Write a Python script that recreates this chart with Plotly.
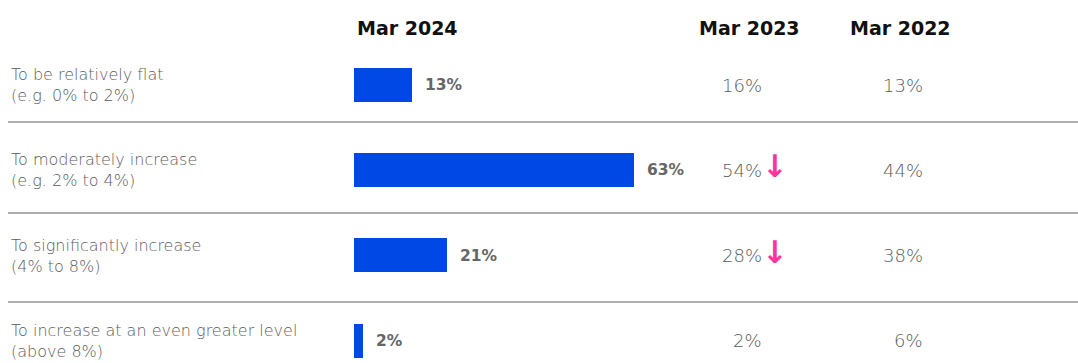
import plotly.graph_objects as go

# Expected change in salaries: share of respondents by period
categories = [
    "To be relatively flat<br>(e.g. 0% to 2%)",
    "To moderately increase<br>(e.g. 2% to 4%)",
    "To significantly increase<br>(4% to 8%)",
    "To increase at an even greater level<br>(above 8%)",
]
mar_2024 = [13, 63, 21, 2]
mar_2023 = [16, 54, 28, 2]
mar_2022 = [13, 44, 38, 6]
# significant movement flag shown beside the Mar 2023 figure
change_2023 = ["", "down", "down", ""]
column_titles = ["Mar 2024", "Mar 2023", "Mar 2022"]

W, H = 1078, 363
BLUE = "#0048E5"
PINK = "#FD349C"
GREY = "#5c5c5c"
LABEL_FONT = "DejaVu Sans"


def px_x(p):
    return p / W


def px_y(p):
    return 1 - p / H


fig = go.Figure(
    go.Bar(
        x=mar_2024,
        y=categories,
        orientation="h",
        width=0.4,
        marker=dict(color=BLUE, line=dict(width=0)),
        hoverinfo="skip",
    )
)

annotations = []

# column headers
header_pos = [(355, "left"), (749, "center"), (900, "center")]
for title, (hx, anchor) in zip(column_titles, header_pos):
    annotations.append(dict(text=f"<b>{title}</b>", xref="paper", yref="paper",
                            x=px_x(hx), y=px_y(28), xanchor=anchor, yanchor="middle",
                            showarrow=False,
                            font=dict(family=LABEL_FONT, size=19, color="#111111")))

for cat, v24, v23, v22, chg in zip(categories, mar_2024, mar_2023, mar_2022, change_2023):
    # row label
    annotations.append(dict(text=cat, xref="paper", yref="y", x=px_x(9), y=cat,
                            xanchor="left", yanchor="middle", align="left", showarrow=False,
                            font=dict(family=LABEL_FONT, size=16, color=GREY, weight=300)))
    # bar value
    annotations.append(dict(text=f"<b>{v24}%</b>", xref="x", yref="y", x=v24, y=cat,
                            xanchor="left", yanchor="middle", xshift=11, showarrow=False,
                            font=dict(family=LABEL_FONT, size=15.5, color="#666666")))
    # previous periods
    annotations.append(dict(text=f"{v23}%", xref="paper", yref="y", x=px_x(764), y=cat,
                            xanchor="right", yanchor="middle", showarrow=False,
                            font=dict(family=LABEL_FONT, size=18, color=GREY, weight=300)))
    annotations.append(dict(text=f"{v22}%", xref="paper", yref="y", x=px_x(925), y=cat,
                            xanchor="right", yanchor="middle", showarrow=False,
                            font=dict(family=LABEL_FONT, size=18, color=GREY, weight=300)))
    if chg == "down":
        annotations.append(dict(text="<b>↓</b>", xref="paper", yref="y", x=px_x(760), y=cat,
                                xanchor="left", yanchor="middle", yshift=4, showarrow=False,
                                font=dict(family=LABEL_FONT, size=31, color=PINK)))

# row separators
shapes = []
for yp in (122, 213, 302):
    shapes.append(dict(type="line", xref="paper", yref="paper", x0=px_x(8), x1=1,
                       y0=px_y(yp), y1=px_y(yp), line=dict(color="#959595", width=1.5)))

ROW_PITCH = 85.33
TOP_CENTER = 85
domain_top = TOP_CENTER - ROW_PITCH / 2
y_bottom = -0.5 + (H - domain_top) / ROW_PITCH

fig.update_layout(
    width=W,
    height=H,
    margin=dict(l=0, r=0, t=0, b=0),
    paper_bgcolor="white",
    plot_bgcolor="white",
    showlegend=False,
    bargap=0,
    xaxis=dict(range=[0, 100], domain=[px_x(354), px_x(354 + 445)], visible=False,
               fixedrange=True),
    yaxis=dict(type="category", categoryorder="array", categoryarray=categories,
               range=[y_bottom, -0.5], domain=[0, 1 - domain_top / H], visible=False,
               fixedrange=True),
    annotations=annotations,
    shapes=shapes,
)

fig.write_html("out.html", config={"displayModeBar": False})
